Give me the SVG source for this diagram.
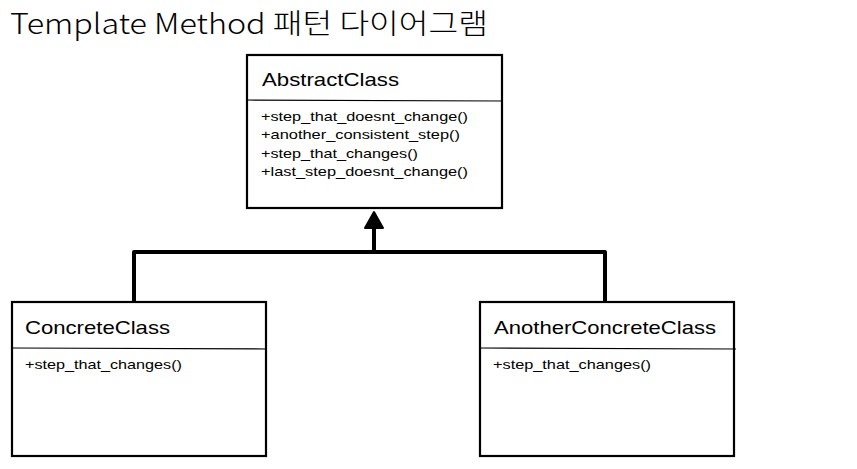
<svg xmlns="http://www.w3.org/2000/svg" width="857" height="469" viewBox="0 0 857 469">
<style>
.box{fill:#fff;stroke:#000;stroke-width:2.2}
.div{stroke:#000;stroke-width:1.2}
.name{font-family:"Liberation Sans","DejaVu Sans",sans-serif;font-size:19px;fill:#000}
.m{font-family:"Liberation Sans","DejaVu Sans",sans-serif;font-size:13px;fill:#000}
.title{font-family:"Noto Sans CJK KR","Noto Sans",sans-serif;font-size:28px;font-weight:300;fill:#000}
.conn{fill:none;stroke:#000;stroke-width:4;stroke-linejoin:round}
</style>
<rect width="857" height="469" fill="#fff"/>
<text class="title" x="10" y="34" textLength="478" lengthAdjust="spacingAndGlyphs">Template Method 패턴 다이어그램</text>
<g id="connectors">
<path class="conn" d="M134,301 V252 H605 V302"/>
<path class="conn" d="M374,252 V224"/>
<path d="M374,212 L383,228 L365,228 Z" fill="#000" stroke="#000" stroke-width="2" stroke-linejoin="round"/>
</g>
<g id="AbstractClass">
<rect class="box" x="247" y="55" width="255" height="153"/>
<line class="div" x1="247" y1="100" x2="502" y2="101"/>
<text class="name" x="262" y="86" textLength="137" lengthAdjust="spacingAndGlyphs">AbstractClass</text>
<text class="m" x="261" y="121" textLength="207" lengthAdjust="spacingAndGlyphs">+step_that_doesnt_change()</text>
<text class="m" x="261" y="139" textLength="199" lengthAdjust="spacingAndGlyphs">+another_consistent_step()</text>
<text class="m" x="261" y="158" textLength="157" lengthAdjust="spacingAndGlyphs">+step_that_changes()</text>
<text class="m" x="261" y="176" textLength="207" lengthAdjust="spacingAndGlyphs">+last_step_doesnt_change()</text>
</g>
<g id="ConcreteClass">
<rect class="box" x="12" y="302" width="254" height="154"/>
<line class="div" x1="12" y1="348" x2="267" y2="349"/>
<text class="name" x="25" y="334" textLength="145" lengthAdjust="spacingAndGlyphs">ConcreteClass</text>
<text class="m" x="25" y="369" textLength="157" lengthAdjust="spacingAndGlyphs">+step_that_changes()</text>
</g>
<g id="AnotherConcreteClass">
<rect class="box" x="480" y="302" width="254" height="154"/>
<line class="div" x1="480" y1="348" x2="736" y2="349"/>
<text class="name" x="494" y="334" textLength="222" lengthAdjust="spacingAndGlyphs">AnotherConcreteClass</text>
<text class="m" x="493" y="369" textLength="158" lengthAdjust="spacingAndGlyphs">+step_that_changes()</text>
</g>
</svg>
